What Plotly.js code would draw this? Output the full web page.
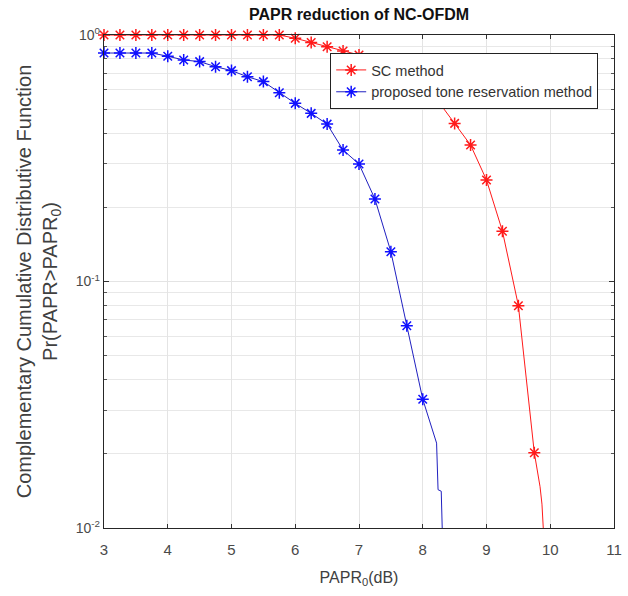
<!DOCTYPE html>
<html>
<head>
<meta charset="utf-8">
<script src="https://cdn.plot.ly/plotly-3.0.1.min.js"></script>
<style>html,body{margin:0;padding:0;background:#fff;}#chart{width:628px;height:596px;}</style>
</head>
<body>
<div id="chart"></div>
<script>
// ---- data ----
const scX = [3,3.25,3.5,3.75,4,4.25,4.5,4.75,5,5.25,5.5,5.75,6,6.25,6.5,6.75,7,7.25,7.5,7.75,8,8.25,8.5,8.75,9,9.25,9.5,9.75];
const scY = [1,1,1,1,1,1,1,1,1,1,1,1,0.97,0.932,0.896,0.861,0.83,0.79,0.74,0.685,0.62,0.535,0.438,0.358,0.258,0.160,0.0798,0.0202];
const scTailX = [9.75,9.84,9.87,9.9];
const scTailY = [0.0202,0.0147,0.0125,0.009];

const trX = [3,3.25,3.5,3.75,4,4.25,4.5,4.75,5,5.25,5.5,5.75,6,6.25,6.5,6.75,7,7.25,7.5,7.75,8];
const trY = [0.845,0.845,0.845,0.845,0.82,0.792,0.78,0.744,0.717,0.677,0.647,0.583,0.528,0.481,0.435,0.3415,0.2997,0.216,0.132,0.0662,0.0333];
const trTailX = [8,8.217,8.24,8.29,8.31];
const trTailY = [0.0333,0.0221,0.0143,0.0141,0.009];

const seriesNames = ['SC method','proposed tone reservation method'];
const xTicks = [3,4,5,6,7,8,9,10,11];
const yMajor = [0.01,0.1,1];
const yMajorText = ['10<sup>-2</sup>','10<sup>-1</sup>','10<sup>0</sup>'];
const yMinor = [0.02,0.03,0.04,0.05,0.06,0.07,0.08,0.09,0.2,0.3,0.4,0.5,0.6,0.7,0.8,0.9];

const RED = '#ff1a1a', BLUE = '#1010ff', NAVY = '#2020c0';
const traces = [
  {x: scTailX, y: scTailY, mode: 'lines', line: {color: RED, width: 1}, showlegend: false, hoverinfo: 'skip'},
  {x: trTailX, y: trTailY, mode: 'lines', line: {color: NAVY, width: 1}, showlegend: false, hoverinfo: 'skip'},
  {x: scX, y: scY, name: seriesNames[0], mode: 'lines+markers', cliponaxis: false,
   line: {color: RED, width: 1}, marker: {symbol: 'asterisk-open', size: 10, color: RED, line: {color: RED, width: 1.5}}},
  {x: trX, y: trY, name: seriesNames[1], mode: 'lines+markers', cliponaxis: false,
   line: {color: NAVY, width: 1}, marker: {symbol: 'asterisk-open', size: 10, color: BLUE, line: {color: BLUE, width: 1.5}}}
];

const layout = {
  width: 628, height: 596,
  margin: {l: 104, r: 14, t: 35, b: 68},
  paper_bgcolor: '#fff', plot_bgcolor: '#fff',
  font: {family: 'Liberation Sans, Arial, sans-serif', color: '#404040'},
  title: {text: '<b>PAPR reduction of NC-OFDM</b>', font: {size: 16, color: '#111'}, x: 0.5, xref: 'paper', y: 0.985, yanchor: 'top'},
  xaxis: {
    range: [3, 11], tickvals: xTicks, ticktext: xTicks.map(String),
    showgrid: true, gridcolor: '#e4e4e4', gridwidth: 1,
    ticks: 'inside', ticklen: 4, tickcolor: '#333', ticklabelstandoff: 8,
    showline: true, linecolor: '#262626', linewidth: 1.2, mirror: 'allticks',
    zeroline: false, tickfont: {size: 15, color: '#4a4a4a'},
    title: {text: 'PAPR<sub>0</sub>(dB)', font: {size: 16, color: '#404040'}, standoff: 14}
  },
  yaxis: {
    type: 'log', range: [-2, 0], tickvals: yMajor, ticktext: yMajorText,
    showgrid: true, gridcolor: '#e4e4e4', gridwidth: 1,
    ticks: 'inside', ticklen: 5, tickcolor: '#333',
    minor: {tickvals: yMinor, ticks: 'inside', ticklen: 3, tickcolor: '#555', showgrid: true, gridcolor: '#e8e8e8', gridwidth: 1},
    showline: true, linecolor: '#262626', linewidth: 1.2, mirror: 'allticks',
    zeroline: false, tickfont: {size: 14, color: '#4a4a4a'},
    title: {text: 'Complementary Cumulative Distributive Function<br>Pr(PAPR>PAPR<sub>0</sub>)', font: {size: 20, color: '#404040'}, standoff: 12}
  },
  legend: {
    x: 0.969, xanchor: 'right', y: 0.9635, yanchor: 'top',
    bgcolor: '#fff', bordercolor: '#222', borderwidth: 1,
    font: {size: 14.5, color: '#333'}, tracegroupgap: 0
  },
  showlegend: true
};

Plotly.newPlot('chart', traces, layout, {displayModeBar: false, staticPlot: true});
</script>
</body>
</html>
